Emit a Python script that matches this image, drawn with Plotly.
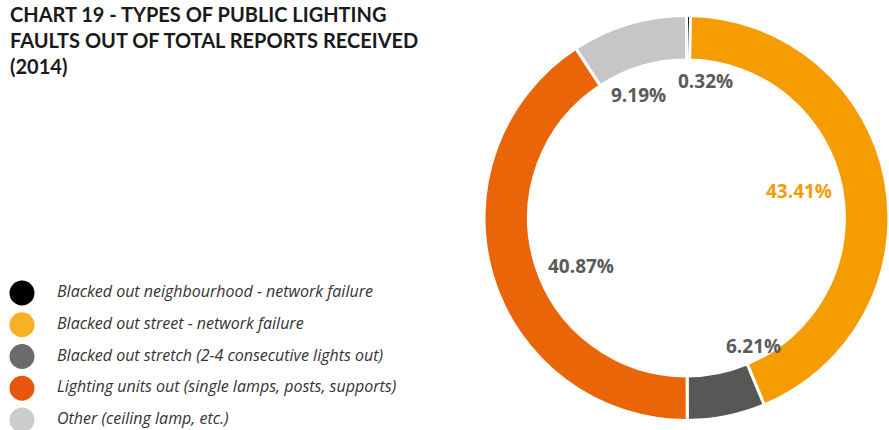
import math
import plotly.graph_objects as go

# data
categories = [
    "Blacked out neighbourhood - network failure",
    "Blacked out street - network failure",
    "Blacked out stretch (2-4 consecutive lights out)",
    "Lighting units out (single lamps, posts, supports)",
    "Other (ceiling lamp, etc.)",
]
shares = [0.32, 43.41, 6.21, 40.87, 9.19]
slice_colors = ["#000000", "#F49C00", "#575756", "#EA6508", "#C6C6C6"]
legend_colors = ["#000000", "#F8B124", "#6B6B6D", "#E8560E", "#CCCCCC"]
label_colors = ["#5A5A5A", "#F49C00", "#5A5A5A", "#5A5A5A", "#5A5A5A"]
title = "CHART 19 - TYPES OF PUBLIC LIGHTING<br>FAULTS OUT OF TOTAL REPORTS RECEIVED<br>(2014)"

W, H = 889, 430

fig = go.Figure()

# donut
dom_x = [484 / W, 1.0]
dom_y = [6 / H, 418 / H]
fig.add_trace(go.Pie(
    values=shares,
    labels=categories,
    hole=0.78,
    sort=False,
    direction="clockwise",
    rotation=0,
    marker=dict(colors=slice_colors, line=dict(color="white", width=3)),
    textinfo="none",
    hoverinfo="label+percent",
    domain=dict(x=dom_x, y=dom_y),
    showlegend=False,
))

# percentage labels inside the hole, placed near each slice's mid angle
cx = (dom_x[0] + dom_x[1]) / 2 * W
cy = H - (dom_y[0] + dom_y[1]) / 2 * H
total = sum(shares)
radii = [137, 112, 132, 118, 128]
nudge_x = [18, 2, 41, 8, -12]   # small shifts as in the original layout
nudge_y = [0, -6, -1, 14, 0]
start = 0.0
for val, col, r, dx, dy in zip(shares, label_colors, radii, nudge_x, nudge_y):
    mid = (start + val / 2) / total * 2 * math.pi
    start += val
    px = cx + r * math.sin(mid) + dx
    py = cy - r * math.cos(mid) + dy
    fig.add_annotation(
        x=px / W, y=1 - py / H, xref="paper", yref="paper",
        xanchor="center", yanchor="middle",
        text="<b>%.2f%%</b>" % val, showarrow=False,
        font=dict(family="Open Sans", size=19, color=col),
    )

# custom legend with large circles
idx = list(range(len(categories)))
fig.add_trace(go.Scatter(
    x=[22] * len(idx), y=idx, mode="markers",
    marker=dict(size=25, color=legend_colors),
    hoverinfo="skip", showlegend=False,
))
fig.add_trace(go.Scatter(
    x=[57] * len(idx), y=idx, mode="text",
    text=categories, textposition="middle right",
    textfont=dict(family="Open Sans", size=16, color="#333333", style="italic"),
    hoverinfo="skip", showlegend=False,
))
fig.update_xaxes(domain=[0, 0.5], range=[0, 0.5 * W], visible=False, fixedrange=True)
fig.update_yaxes(domain=[0, 1], range=[4.315, -9.228], visible=False, fixedrange=True)

# title
fig.add_annotation(
    x=8 / W, y=1.0, xref="paper", yref="paper",
    xanchor="left", yanchor="top", align="left",
    text="<b>" + title + "</b>", showarrow=False,
    font=dict(family="Lato", size=20, color="#1A1A1A"),
)

fig.update_layout(
    width=W, height=H,
    margin=dict(l=0, r=0, t=0, b=0),
    paper_bgcolor="white", plot_bgcolor="rgba(0,0,0,0)",
)

fig.write_html(
    "out.html",
    config={"displayModeBar": False},
    post_script="document.body.style.margin='0';document.body.style.overflow='hidden';",
)
